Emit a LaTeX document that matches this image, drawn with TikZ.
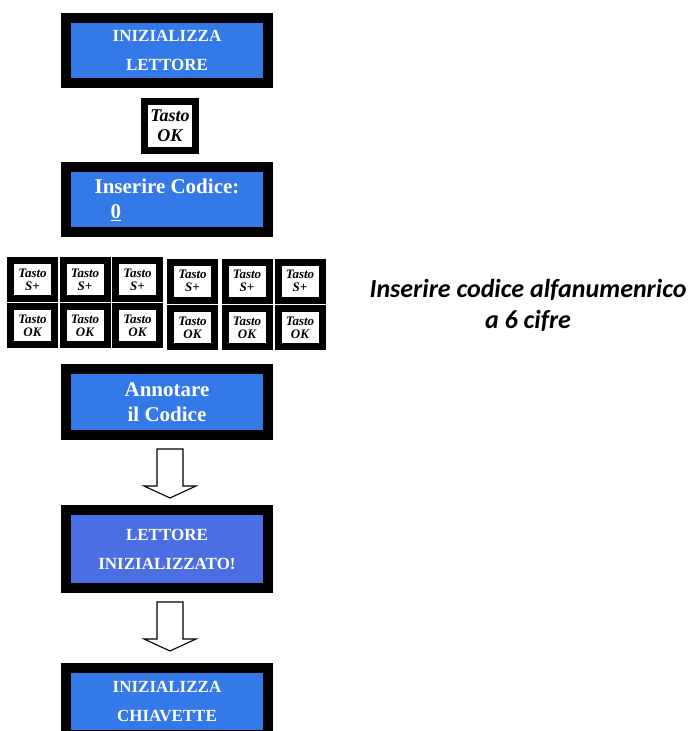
\documentclass[tikz,border=0pt]{standalone}
\usepackage{fontspec}
\setmainfont{Liberation Serif}
\newfontfamily\notefont{Carlito}
\definecolor{panelblue}{RGB}{52,121,232}
\definecolor{panelviolet}{RGB}{75,111,227}
\begin{document}
\begin{tikzpicture}[x=1pt,y=-1pt,
  panel/.style={draw=black, line width=10pt, fill=panelblue, text=white,
    align=center, inner sep=0pt, minimum width=202pt,
    font=\bfseries\fontsize{17}{29}\selectfont},
  bigpanel/.style={panel, font=\bfseries\fontsize{21}{25}\selectfont},
  keybox/.style={draw=black, line width=7pt, fill=white, align=center,
    inner sep=0pt, minimum width=44pt, minimum height=38pt,
    font=\bfseries\itshape\fontsize{13}{13}\selectfont},
  bigkey/.style={keybox, minimum width=51pt, minimum height=49pt,
    font=\bfseries\itshape\fontsize{18}{20}\selectfont},
  note/.style={anchor=base, inner sep=0pt,
    font=\notefont\bfseries\itshape\fontsize{26}{31}\selectfont},
  blockdown/.pic={
    \draw[line width=1.1pt, fill=white, line join=miter]
      (-13,0) -- (13,0) -- (13,37) -- (26,37) -- (0,49) -- (-26,37) -- (-13,37) -- cycle;
  }
]
\useasboundingbox (0,0) rectangle (692,731);

% display panels
\node[panel, minimum height=65pt] (init) at (167,50.5) {INIZIALIZZA\\LETTORE};
\node[bigkey] (okfirst) at (170,126) {Tasto\\OK};
\node[bigpanel, align=left, minimum height=65pt] (code) at (167,199.5)
  {Inserire Codice:\\\hspace*{16pt}\underline{0}};
\node[bigpanel, minimum height=66pt] (note) at (167,402) {Annotare\\il Codice};
\node[panel, fill=panelviolet, minimum height=78pt] (done) at (167,549)
  {LETTORE\\INIZIALIZZATO!};
\node[panel, minimum height=67pt] (sticks) at (167,701.5) {INIZIALIZZA\\CHIAVETTE};

% key presses: S+ row above OK row, in two groups of three
\foreach \i/\x/\ya/\yb in {1/32.5/279.5/325.5, 2/85/279.5/325.5, 3/137.5/279.5/325.5,
                          4/192.5/281/327.5, 5/247/281/327.5, 6/300/281/327.5} {
  \node[keybox] (splus\i) at (\x,\ya) {Tasto\\S+};
  \node[keybox] (okkey\i) at (\x,\yb) {Tasto\\OK};
}

% block arrows between panels
\pic at (170,449) {blockdown};
\pic at (170,602) {blockdown};

% side note
\node[note] (hint1) at (528,297) {Inserire codice alfanumenrico};
\node[note] (hint2) at (528,328) {a 6 cifre};
\end{tikzpicture}
\end{document}
